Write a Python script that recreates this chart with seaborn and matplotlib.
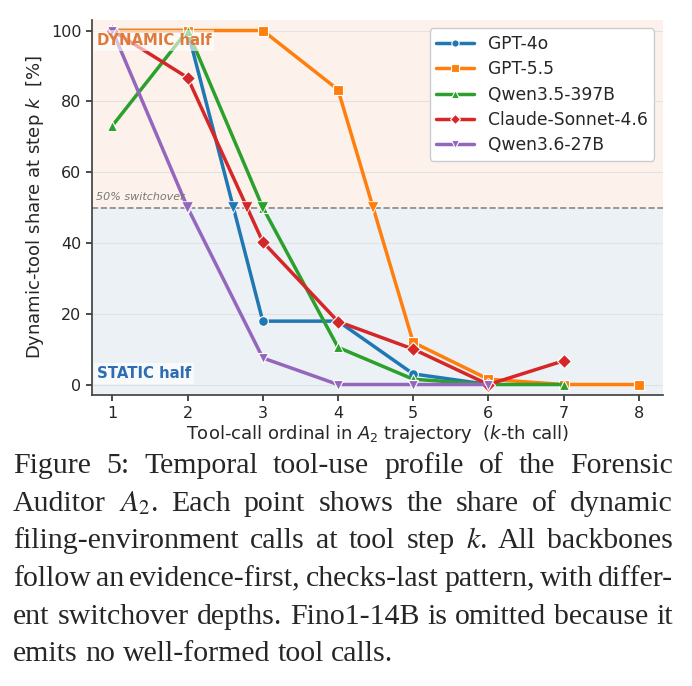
import numpy as np
import pandas as pd
import matplotlib
matplotlib.use("Agg")
import matplotlib.pyplot as plt
import seaborn as sns

# ---------------- data ----------------
steps = [1, 2, 3, 4, 5, 6, 7, 8]
models = ["GPT-4o", "GPT-5.5", "Qwen3.5-397B", "Claude-Sonnet-4.6", "Qwen3.6-27B"]
nan = np.nan
gpt4o = [100, 100, 17.9, 17.9, 3.0, 0.0, nan, nan]
gpt55 = [100, 100, 100, 83.3, 11.9, 1.5, 0.0, 0.0]
qwen35 = [73.1, 100, 50.0, 10.5, 1.5, 0.0, 0.0, nan]
claude = [100, 86.7, 40.3, 17.8, 10.0, 0.0, 6.7, nan]
qwen36 = [100, 50.0, 7.5, 0.0, 0.0, 0.0, nan, nan]
series = [gpt4o, gpt55, qwen35, claude, qwen36]
threshold = 50

caption_lines = [
    "Figure 5:  Temporal tool-use profile of the Forensic",
    "Auditor $A_2$.  Each point shows the share of dynamic",
    "filing-environment calls at tool step $k$.  All backbones",
    "follow an evidence-first, checks-last pattern, with differ-",
    "ent switchover depths. Fino1-14B is omitted because it",
    "emits no well-formed tool calls.",
]

rows = []
for m, vals in zip(models, series):
    for s, v in zip(steps, vals):
        if not np.isnan(v):
            rows.append({"step": s, "share": v, "model": m})
df = pd.DataFrame(rows)

# crossing points of the 50% line (first downward crossing)
cross = []
for m, vals in zip(models, series):
    for i in range(1, len(vals)):
        a, b = vals[i - 1], vals[i]
        if np.isnan(a) or np.isnan(b):
            continue
        if a > threshold >= b:
            xc = steps[i - 1] + (a - threshold) / (a - b) * (steps[i] - steps[i - 1])
            cross.append({"step": xc, "share": threshold, "model": m})
            break
cdf = pd.DataFrame(cross)

# ---------------- style ----------------
sns.set_theme(style="ticks")
plt.rcParams["font.family"] = ["DejaVu Sans"]
plt.rcParams["mathtext.fontset"] = "dejavusans"

palette = dict(zip(models, sns.color_palette("tab10", 5)))
markers = dict(zip(models, ["o", "s", "^", "D", "v"]))

fig = plt.figure(figsize=(6.92, 6.86), dpi=100)
ax = fig.add_axes([0.133, 0.424, 0.825, 0.547])

ax.axhspan(threshold, 103, color="#fcf2eb", zorder=0, lw=0)
ax.axhspan(-3, threshold, color="#ecf1f6", zorder=0, lw=0)
ax.yaxis.grid(True, color="#e2e2e2", lw=0.8, zorder=0.5)
ax.set_axisbelow(True)

sns.lineplot(data=df, x="step", y="share", hue="model", style="model",
             hue_order=models, style_order=models, palette=palette,
             markers=markers, dashes=False, lw=2.5, markersize=7,
             markeredgecolor="white", markeredgewidth=0.8, ax=ax, zorder=3)

sns.scatterplot(data=cdf, x="step", y="share", hue="model", hue_order=models,
                palette=palette, marker="v", s=70, edgecolor="white",
                linewidth=0.6, ax=ax, zorder=4, legend=False)

ax.axhline(threshold, ls="--", color="#888888", lw=1.2, zorder=2)
ax.text(0.78, threshold + 1.5, "50% switchover", fontsize=8, style="italic",
        color="#777777", ha="left", va="bottom", zorder=5)
ax.text(0.79, 97.3, "DYNAMIC half", fontsize=10.7, fontweight="bold",
        color="#e07a3b", ha="left", va="center", zorder=6,
        bbox=dict(boxstyle="square,pad=0.2", fc="white", ec="none", alpha=0.6))
ax.text(0.79, 3, "STATIC half", fontsize=10.7, fontweight="bold",
        color="#2c6db3", ha="left", va="center", zorder=6,
        bbox=dict(boxstyle="square,pad=0.2", fc="white", ec="none", alpha=0.6))

ax.set_xlim(0.73, 8.32)
ax.set_ylim(-3, 103)
ax.set_xticks(steps)
ax.set_yticks([0, 20, 40, 60, 80, 100])
ax.tick_params(labelsize=11.5, length=4, color="#333333")
ax.set_xlabel("Tool-call ordinal in $A_2$ trajectory  ($k$-th call)", fontsize=13,
              labelpad=2)
ax.set_ylabel("Dynamic-tool share at step $k$  [%]", fontsize=13)
for side in ["top", "right"]:
    ax.spines[side].set_visible(False)
for side in ["left", "bottom"]:
    ax.spines[side].set_color("#444444")

leg = ax.legend(title=None, loc="upper right", fontsize=12.3, frameon=True,
                borderaxespad=0.5, handlelength=2.2, markerscale=0.75,
                labelspacing=0.42)
leg.get_frame().set_edgecolor("#cccccc")
leg.get_frame().set_facecolor("white")
leg.get_frame().set_alpha(1.0)

# ---------------- caption (justified) ----------------
cap_font = dict(family="Liberation Serif", size=21.5, math_fontfamily="stix")
W, H = fig.get_size_inches() * fig.dpi
left_px, right_px = 13, 673
baselines = [473, 511, 548, 586, 624, 661]
fig.canvas.draw()
renderer = fig.canvas.get_renderer()

tmp1 = fig.text(0, 0, "a a", **cap_font)
tmp2 = fig.text(0, 0, "aa", **cap_font)
space_w = tmp1.get_window_extent(renderer).width - tmp2.get_window_extent(renderer).width
tmp1.remove()
tmp2.remove()

for li, (line, base) in enumerate(zip(caption_lines, baselines)):
    words = line.split()
    texts = []
    widths = []
    for w in words:
        t = fig.text(0, 0, w, ha="left", va="baseline", **cap_font)
        widths.append(t.get_window_extent(renderer).width)
        texts.append(t)
    if li < len(caption_lines) - 1 and len(words) > 1:
        gap = (right_px - left_px - sum(widths)) / (len(words) - 1)
    else:
        gap = space_w
    x = left_px
    for t, wdt in zip(texts, widths):
        t.set_position((x / W, 1 - base / H))
        x += wdt + gap

fig.savefig("out.png", dpi=100)
